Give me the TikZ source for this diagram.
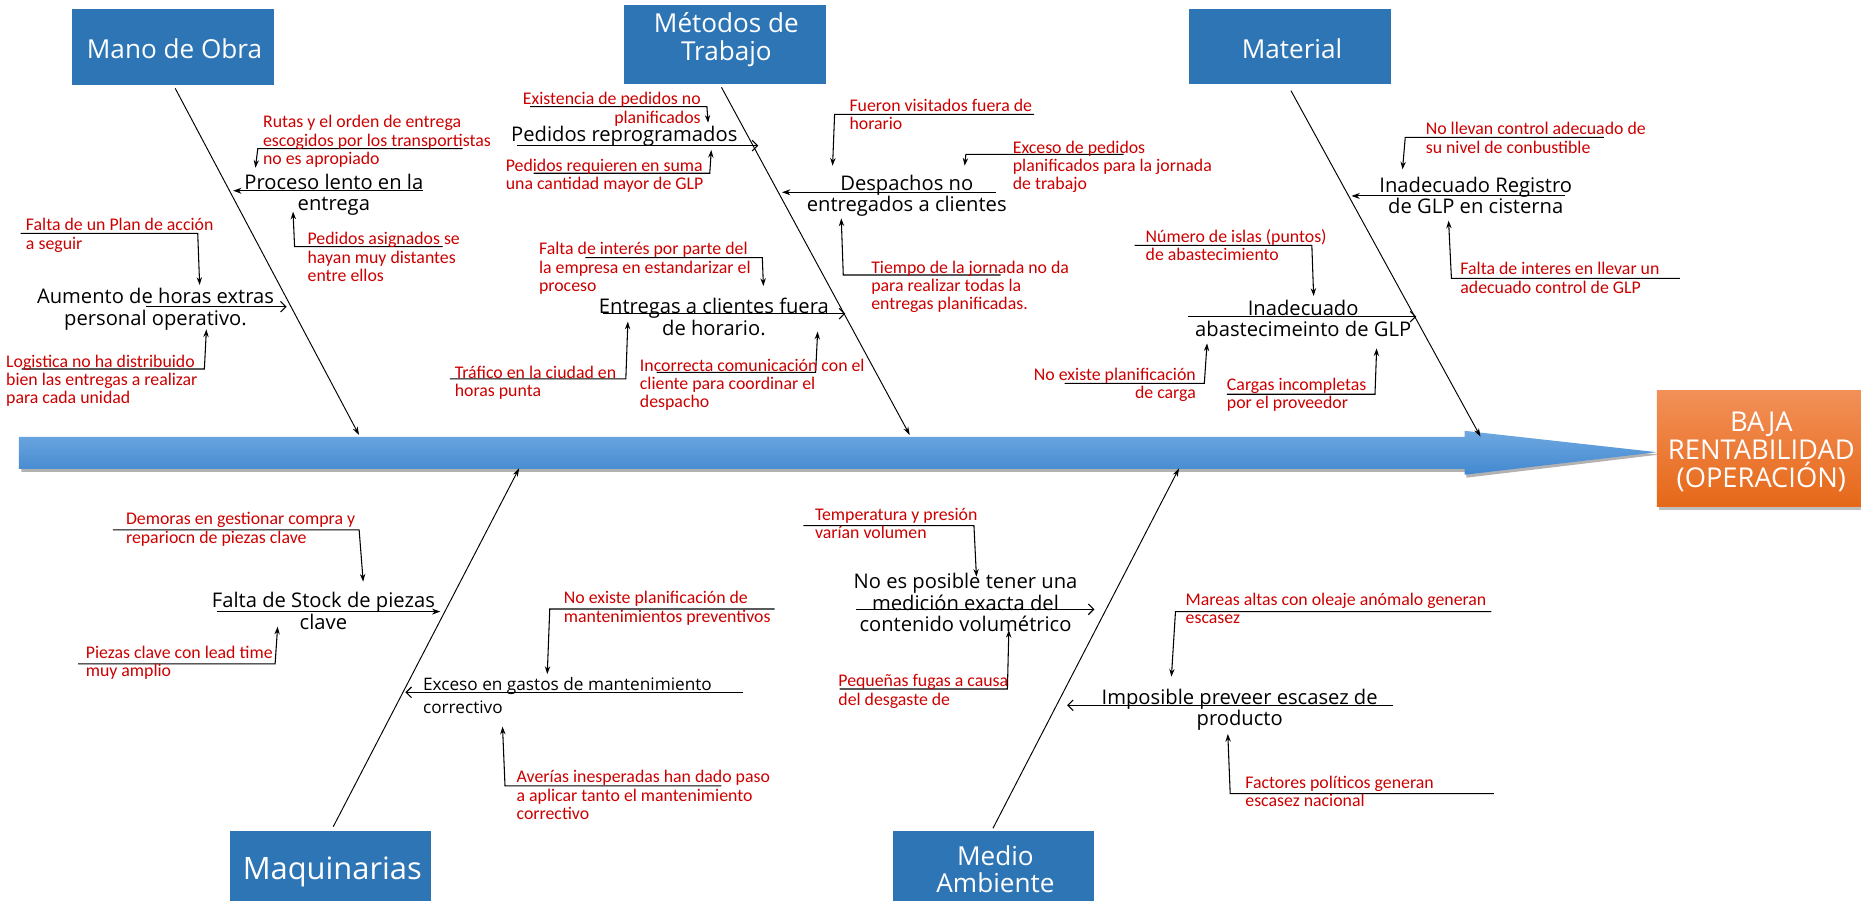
\documentclass[tikz,border=0pt]{standalone}
\usepackage{fontspec}
\setmainfont{Open Sans}
\newfontfamily\redfont{Carlito}
\newfontfamily\osfont{Open Sans}
\usetikzlibrary{arrows.meta}
\definecolor{boxblue}{RGB}{46,117,182}
\definecolor{redc}{RGB}{204,0,0}
\definecolor{spinetop}{RGB}{110,168,225}
\definecolor{spinebot}{RGB}{66,136,207}
\definecolor{orgtop}{RGB}{242,144,88}
\definecolor{orgbot}{RGB}{230,104,24}
\tikzset{
  redtxt/.style={font=\redfont\fontsize{15}{15.5}\selectfont, text=redc, inner sep=0pt, align=left, anchor=north west},
  redtxtr/.style={redtxt, align=right, anchor=north east},
  causetxt/.style={font=\osfont\fontsize{17}{18}\selectfont, text=black, inner sep=0pt, align=center, anchor=north},
  catbox/.style={fill=boxblue, draw=none, inner sep=0pt},
  cattxt/.style={font=\osfont\fontsize{22}{23}\selectfont, text=white, align=center, inner sep=0pt},
  bone/.style={draw=black, line width=0.8pt, -{Stealth[length=7pt,width=4.5pt]}},
  causefill/.style={draw=black, line width=0.9pt, -{Stealth[length=7pt,width=5pt]}},
  causeopen/.style={draw=black, line width=0.9pt, -{Straight Barb[length=4.5pt,width=9pt]}},
  subline/.style={draw=black, line width=0.9pt, -{Stealth[length=6.5pt,width=4.5pt]}},
}
\newcommand\fbsub[4]{%
  \coordinate (#1s) at #2; \coordinate (#1c) at #3; \coordinate (#1t) at #4;
  \draw[subline] (#1s) -- (#1c) -- (#1t);}
\newcommand\fbcause[4]{%
  \coordinate (#1s) at #2; \coordinate (#1e) at #3;
  \draw[#4] (#1s) -- (#1e);}
\begin{document}
\begin{tikzpicture}[x=1pt,y=-1pt]
\useasboundingbox (0,0) rectangle (1568,759);
\fill[white] (0,0) rectangle (1568,759);

% ---------- spine ----------
\fill[black,opacity=0.3] (18,370.5) -- (1235.5,370.5) -- (1235.5,365.5) -- (1398,383) -- (1235.5,402.5) -- (1235.5,397.5) -- (18,397.5) -- cycle;
\shade[top color=spinetop, bottom color=spinebot] (16,368) -- (1234,368) -- (1234,363) -- (1396,381) -- (1234,400) -- (1234,395) -- (16,395) -- cycle;

% ---------- effect box ----------
\fill[black,opacity=0.25] (1398,331) rectangle (1570,430);
\node[top color=orgtop, bottom color=orgbot, draw=none, inner sep=0pt, minimum width=172pt, minimum height=98pt] (eff) at (1482,378) {};
\node[cattxt, font=\osfont\fontsize{23}{23.5}\selectfont] (efft) at (1484,381) {BAJA\\RENTABILIDAD\\(OPERACIÓN)};

% ---------- category boxes ----------
\node[catbox, minimum width=170pt, minimum height=64pt] (bMO) at (146,40) {};
\node[cattxt] (bMOt) at (147,40.7) {Mano de Obra};
\node[catbox, minimum width=170pt, minimum height=66.5pt] (bMT) at (611,37.25) {};
\node[cattxt] (bMTt) at (612,33.5) {Métodos de\\Trabajo};
\node[catbox, minimum width=170pt, minimum height=63pt] (bMA) at (1087,39.5) {};
\node[cattxt] (bMAt) at (1088.6,40.7) {Material};
\node[catbox, minimum width=169pt, minimum height=59pt] (bMQ) at (278.5,729.5) {};
\node[cattxt, font=\osfont\fontsize{26}{27}\selectfont] (bMQt) at (280,735) {Maquinarias};
\node[catbox, minimum width=169.4pt, minimum height=59pt] (bME) at (837.4,729.5) {};
\node[cattxt] (bMEt) at (838.7,732.3) {Medio\\Ambiente};

% ---------- main bones ----------
\coordinate (mo1) at (147.6,74.4);  \coordinate (mo2) at (302.5,366.5);
\coordinate (mt1) at (607.9,73.6);  \coordinate (mt2) at (766.5,366.5);
\coordinate (ma1) at (1087.7,76.4); \coordinate (ma2) at (1247.4,367.9);
\coordinate (mq1) at (280.8,696.5); \coordinate (mq2) at (437.4,394.6);
\coordinate (me1) at (836.6,697.9); \coordinate (me2) at (993.4,394.6);
\draw[bone] (mo1) -- (mo2);
\draw[bone] (mt1) -- (mt2);
\draw[bone] (ma1) -- (ma2);
\draw[bone] (mq1) -- (mq2);
\draw[bone] (me1) -- (me2);

% ---------- cause lines ----------
\fbcause{c1}{(356,160.7)}{(196.5,160.7)}{causefill}
\fbcause{c2}{(123.3,258.4)}{(241.5,258.4)}{causeopen}
\fbcause{c3}{(435.7,122.7)}{(638.9,122.7)}{causeopen}
\fbcause{c4}{(838.8,162)}{(658.9,162)}{causefill}
\fbcause{c5}{(508,264.3)}{(712.2,264.3)}{causeopen}
\fbcause{c6}{(1319,165.1)}{(1138.7,165.1)}{causefill}
\fbcause{c7}{(1001.3,266.8)}{(1193.3,266.8)}{causeopen}
\fbcause{c8}{(183.2,515.3)}{(371,515.3)}{causefill}
\fbcause{c9}{(625.8,583.3)}{(341.6,583.3)}{causeopen}
\fbcause{c10}{(720.9,513.4)}{(922.1,513.4)}{causeopen}
\fbcause{c11}{(1174,594.3)}{(899.1,594.3)}{causeopen}

% ---------- cause texts ----------
\node[causetxt] (t1) at (281.3,146.5) {Proceso lento en la\\entrega};
\node[causetxt] (t2) at (131,242.9) {Aumento de horas extras\\personal operativo.};
\node[causetxt] (t3) at (526,105.8) {Pedidos reprogramados};
\node[causetxt] (t4) at (764,147.1) {Despachos no\\entregados a clientes};
\node[causetxt] (t5) at (601.5,251.3) {Entregas a clientes fuera\\de horario.};
\node[causetxt] (t6) at (1243.4,148.8) {Inadecuado Registro\\de GLP en cisterna};
\node[causetxt] (t7) at (1098,252.7) {Inadecuado\\abastecimeinto de GLP};
\node[causetxt] (t8) at (272.5,499) {Falta de Stock de piezas\\clave};
\node[causetxt, font=\osfont\fontsize{14.5}{20}\selectfont, align=left, anchor=north west] (t9) at (356.3,570.3) {Exceso en gastos de mantenimiento\\correctivo};
\node[causetxt] (t10) at (813.5,483.1) {No es posible tener una\\medición exacta del\\contenido volumétrico};
\node[causetxt] (t11) at (1044.5,580.5) {Imposible preveer escasez de\\producto};

% ---------- sub-cause arrows ----------
\fbsub{s1a}{(389.8,125.3)}{(217.2,125.3)}{(215.2,141.3)}
\fbsub{s1b}{(373,207.8)}{(248.2,207.8)}{(246.9,178.3)}
\fbsub{s2a}{(17.3,196.6)}{(166.6,196.6)}{(168.2,240.1)}
\fbsub{s2b}{(18.3,310.9)}{(172.2,310.9)}{(173.9,277.5)}
\fbsub{s3a}{(446.7,89.9)}{(595.6,89.9)}{(596.6,103.4)}
\fbsub{s3b}{(449.7,146)}{(598,146)}{(599.3,126.4)}
\fbsub{s4a}{(871.4,96.3)}{(703.2,96.3)}{(701.5,139.6)}
\fbsub{s4b}{(946.7,130)}{(813.8,130)}{(812.8,139.6)}
\fbsub{s4c}{(843.1,231.7)}{(710.5,231.7)}{(708.8,184)}
\fbsub{s5a}{(493.3,217.1)}{(642.3,217.1)}{(643.2,241)}
\fbsub{s5b}{(379,319.3)}{(527.3,319.3)}{(529,271)}
\fbsub{s5c}{(553.3,313.7)}{(687.2,313.7)}{(688.9,279.4)}
\fbsub{s6a}{(1351.4,115.7)}{(1184,115.7)}{(1181.7,142.7)}
\fbsub{s6b}{(1415.3,234.5)}{(1222.9,234.5)}{(1220.5,185.9)}
\fbsub{s7a}{(955.9,206.7)}{(1105.3,206.7)}{(1106.8,249.4)}
\fbsub{s7b}{(897.1,323)}{(1014.7,323)}{(1017,289.3)}
\fbsub{s7c}{(1033.6,332.2)}{(1158.5,332.2)}{(1159.9,293.5)}
\fbsub{s8a}{(95.2,446.5)}{(302.6,446.5)}{(306,490.1)}
\fbsub{s8b}{(65.8,559.4)}{(231.8,559.4)}{(233.9,528)}
\fbsub{s9a}{(652.6,513.1)}{(463.2,513.1)}{(461.1,567.9)}
\fbsub{s9b}{(607.8,662.2)}{(425.5,662.2)}{(423.4,612.2)}
\fbsub{s10a}{(676.9,442.9)}{(820.6,442.9)}{(822.7,485.9)}
\fbsub{s10b}{(707.5,580.5)}{(848.8,580.5)}{(850,530.8)}
\fbsub{s11a}{(1256.6,515.3)}{(990.4,515.3)}{(987,570.1)}
\fbsub{s11b}{(1258.7,668.7)}{(1036.5,668.7)}{(1034.5,618.4)}

% ---------- sub-cause texts ----------
\node[redtxt] (r1a) at (221.5,97) {Rutas y el orden de entrega\\escogidos por los transportistas\\no es apropiado};
\node[redtxt] (r1b) at (259,195.6) {Pedidos asignados se\\hayan muy distantes\\entre ellos};
\node[redtxt] (r2a) at (21.7,184) {Falta de un Plan de acción\\a seguir};
\node[redtxt] (r2b) at (5,298.7) {Logistica no ha distribuido\\bien las entregas a realizar\\para cada unidad};
\node[redtxtr] (r3a) at (590.6,77.7) {Existencia de pedidos no\\planificados};
\node[redtxt] (r3b) at (426,133.6) {Pedidos requieren en suma\\una cantidad mayor de GLP};
\node[redtxt] (r4a) at (715.6,83) {Fueron visitados fuera de\\horario};
\node[redtxt] (r4b) at (853.2,118.4) {Exceso de pedidos\\planificados para la jornada\\de trabajo};
\node[redtxt] (r4c) at (733.9,219.5) {Tiempo de la jornada no da\\para realizar todas la\\entregas planificadas.};
\node[redtxt] (r5a) at (454,204) {Falta de interés por parte del\\la empresa en estandarizar el\\proceso};
\node[redtxt] (r5b) at (383,308) {Tráfico en la ciudad en\\horas punta};
\node[redtxt] (r5c) at (539,302.1) {Incorrecta comunicación con el\\cliente para coordinar el\\despacho};
\node[redtxt] (r6a) at (1201.1,103) {No llevan control adecuado de\\su nivel de conbustible};
\node[redtxt] (r6b) at (1230.3,220.9) {Falta de interes en llevar un\\adecuado control de GLP};
\node[redtxt] (r7a) at (965.1,192.8) {Número de islas (puntos)\\de abastecimiento};
\node[redtxtr] (r7b) at (1007.7,310) {No existe planificación\\de carga};
\node[redtxt] (r7c) at (1033.6,318.4) {Cargas incompletas\\por el proveedor};
\node[redtxt] (r8a) at (106,431.6) {Demoras en gestionar compra y\\repariocn de piezas clave};
\node[redtxt] (r8b) at (72.1,543.9) {Piezas clave con lead time\\muy amplio};
\node[redtxt] (r9a) at (474.9,498.1) {No existe planificación de\\mantenimientos preventivos};
\node[redtxt] (r9b) at (435.1,648.9) {Averías inesperadas han dado paso\\a aplicar tanto el mantenimiento\\correctivo};
\node[redtxt] (r10a) at (686.5,427.9) {Temperatura y presión\\varían volumen};
\node[redtxt] (r10b) at (706.2,568.3) {Pequeñas fugas a causa\\del desgaste de};
\node[redtxt] (r11a) at (998.8,499.5) {Mareas altas con oleaje anómalo generan\\escasez};
\node[redtxt] (r11b) at (1049.1,653.4) {Factores políticos generan\\escasez nacional};
\end{tikzpicture}
\end{document}
